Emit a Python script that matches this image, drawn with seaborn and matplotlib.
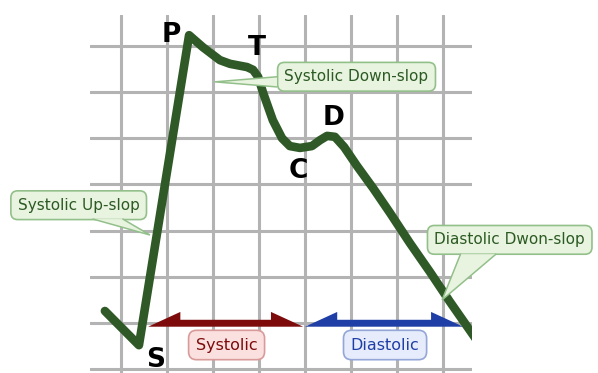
import matplotlib
matplotlib.use("Agg")
import matplotlib.pyplot as plt
from matplotlib.patches import Polygon
import numpy as np
import pandas as pd
import seaborn as sns

# ---- data (grid-cell units) ----
wave_x = [-0.35, 0.39, 1.48, 1.78, 2.15, 2.37, 2.74, 2.87, 2.98, 3.09, 3.30,
          3.50, 3.67, 3.89, 4.15, 4.33, 4.48, 4.65, 4.85, 5.13, 5.48, 5.85,
          6.28, 6.72, 7.15, 7.76]
wave_y = [0.26, -0.48, 6.23, 5.97, 5.69, 5.61, 5.54, 5.48, 5.33, 4.98, 4.39,
          4.00, 3.83, 3.79, 3.83, 3.96, 4.05, 4.03, 3.81, 3.40, 2.92, 2.38,
          1.73, 1.10, 0.46, -0.41]

point_labels = ["P", "T", "C", "D", "S"]
point_x = [1.09, 2.96, 3.85, 4.62, 0.76]
point_y = [6.23, 5.95, 3.29, 4.44, -0.80]

phase_names = ["Systolic", "Diastolic"]
phase_start = [0.59, 4.00]
phase_end = [3.96, 7.44]

callout_texts = ["Systolic Up-slop", "Systolic Down-slop", "Diastolic Dwon-slop"]
callout_box_x = [-0.92, 5.12, 8.45]
callout_box_y = [2.55, 5.33, 1.80]
# pointer triangles: (base1, base2, tip)
callout_pointers = [
    [(-0.61, 2.25), (0.04, 2.25), (0.63, 1.905)],
    [(3.39, 5.33), (3.39, 5.11), (2.04, 5.22)],
    [(7.38, 1.49), (8.15, 1.49), (6.98, 0.50)],
]

grid_x = list(range(0, 8))
grid_y = list(range(-1, 7))

# ---- styles ----
CURVE = "#2f5a27"
GRID = "#b3b3b3"
phase_colors = ["#7d0b0b", "#1f3fa6"]
phase_face = ["#fbe0e0", "#e6ecfb"]
phase_edge = ["#d99a9a", "#94a6d8"]
CALL_FACE = "#e8f4e0"
CALL_EDGE = "#93c08a"
CALL_TEXT = "#2c5a23"

sns.set_theme(style="white")
plt.rcParams["font.family"] = ["DejaVu Sans"]

fig = plt.figure(figsize=(5.98, 3.73), dpi=100)
ax = fig.add_axes([90 / 598, 0.0, 382 / 598, (373 - 15) / 373])
ax.set_xlim(-0.674, 7.630)
ax.set_ylim(-1.082, 6.667)
ax.set_xticks(grid_x)
ax.set_yticks(grid_y)
ax.set_xticklabels([])
ax.set_yticklabels([])
ax.tick_params(length=0)
for s in ax.spines.values():
    s.set_visible(False)
ax.grid(True, color=GRID, linewidth=2.2)
ax.set_axisbelow(True)

df = pd.DataFrame({"x": wave_x, "y": wave_y})
sns.lineplot(data=df, x="x", y="y", sort=False, ax=ax, color=CURVE,
             linewidth=6.2, zorder=4)
line = ax.lines[-1]
line.set_solid_joinstyle("round")
line.set_solid_capstyle("round")
ax.set_xlabel("")
ax.set_ylabel("")

# phase half-arrows
base_y = -0.08
body_h = 0.15
head_h = 0.32
head_l = 0.70
for name, x0, x1, c, fc, ec in zip(phase_names, phase_start, phase_end,
                                   phase_colors, phase_face, phase_edge):
    verts = [(x0, base_y), (x0 + head_l, base_y + head_h),
             (x0 + head_l, base_y + body_h), (x1 - head_l, base_y + body_h),
             (x1 - head_l, base_y + head_h), (x1, base_y)]
    ax.add_patch(Polygon(verts, closed=True, facecolor=c, edgecolor="none",
                         zorder=3, clip_on=False))
    ax.text((x0 + x1) / 2 + 0.02, -0.476, name, ha="center", va="center",
            fontsize=11.5, color=c, zorder=5,
            bbox=dict(boxstyle="round,pad=0.45,rounding_size=0.5", fc=fc,
                      ec=ec, lw=1.2))

# point letters
for lab, x, y in zip(point_labels, point_x, point_y):
    ax.text(x, y, lab, ha="center", va="center", fontsize=19,
            fontweight="bold", color="black", zorder=6, clip_on=False)

# callouts
for txt, bx, by, tri in zip(callout_texts, callout_box_x, callout_box_y,
                            callout_pointers):
    ax.text(bx, by, txt, ha="center", va="center", fontsize=11,
            color=CALL_TEXT, zorder=7, clip_on=False,
            bbox=dict(boxstyle="round,pad=0.45,rounding_size=0.45",
                      fc=CALL_FACE, ec=CALL_EDGE, lw=1.2))
    ax.add_patch(Polygon(tri, closed=True, facecolor=CALL_FACE,
                         edgecolor="none", zorder=8, clip_on=False))
    (b1, b2, tip) = tri
    ax.plot([b1[0], tip[0], b2[0]], [b1[1], tip[1], b2[1]], color=CALL_EDGE,
            lw=1.1, zorder=8, clip_on=False, solid_joinstyle="miter")

fig.savefig("out.png", dpi=100)
